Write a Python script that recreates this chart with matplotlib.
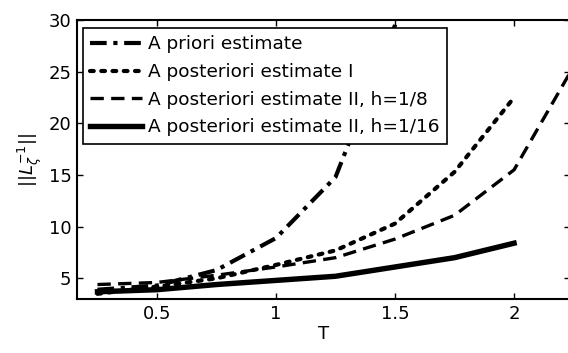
import matplotlib
matplotlib.use("Agg")
import matplotlib.pyplot as plt

plt.rcParams['font.family'] = ['DejaVu Sans']
plt.rcParams['mathtext.fontset'] = 'dejavusans'

T = [0.25, 0.5, 0.75, 1.0, 1.25, 1.5, 1.75, 2.0]
T_ext = [0.25, 0.5, 0.75, 1.0, 1.25, 1.5, 1.75, 2.0, 2.25]

a_priori = [3.9, 4.3, 5.8, 8.9, 14.8, 29.5, 60.0, 120.0]
post_I = [3.5, 4.2, 5.0, 6.3, 7.7, 10.3, 15.3, 22.5]
post_II_8 = [4.4, 4.6, 5.3, 6.1, 7.0, 8.8, 11.1, 15.5, 25.5]
post_II_16 = [3.7, 3.9, 4.4, 4.8, 5.2, 6.1, 7.0, 8.4]

labels = ["A priori estimate",
          "A posteriori estimate I",
          "A posteriori estimate II, h=1/8",
          "A posteriori estimate II, h=1/16"]
xticks = [0.5, 1, 1.5, 2]
yticks = [5, 10, 15, 20, 25, 30]

fig = plt.figure(figsize=(5.68, 3.53), dpi=100)
ax = fig.add_axes([77/568, 54/353, 493/568, 279/353])

lw = 3.0
ax.plot(T, a_priori, color='black', lw=lw, dashes=(4, 1.6, 1, 1.6), label=labels[0])
ax.plot(T, post_I, color='black', lw=lw, dashes=(0.9, 1.8), dash_capstyle='round', label=labels[1])
ax.plot(T_ext, post_II_8, color='black', lw=lw*0.8, dashes=(4, 2.2), label=labels[2])
ax.plot(T, post_II_16, color='black', lw=lw*1.3, label=labels[3])

ax.set_xlim(0.164, 2.235)
ax.set_ylim(3, 30)
ax.set_xticks(xticks)
ax.set_xticklabels(["0.5", "1", "1.5", "2"])
ax.set_yticks(yticks)
ax.tick_params(direction='in', top=True, right=True, length=4, width=1, labelsize=13, pad=4)
for s in ax.spines.values():
    s.set_linewidth(1.5)

ax.set_xlabel("T", fontsize=13, labelpad=2)
ax.set_ylabel(r"$||L_{\zeta}^{-1}||$", fontsize=13, labelpad=3)

leg = ax.legend(loc='upper left', bbox_to_anchor=(83/568, 1 - 28/353),
                bbox_transform=fig.transFigure, borderaxespad=0,
                fancybox=False, framealpha=1, edgecolor='black',
                fontsize=13.3, handlelength=2.8, handletextpad=0.3,
                labelspacing=0.52, borderpad=0.4)
leg.get_frame().set_linewidth(1.2)

fig.savefig("out.png", dpi=100)
